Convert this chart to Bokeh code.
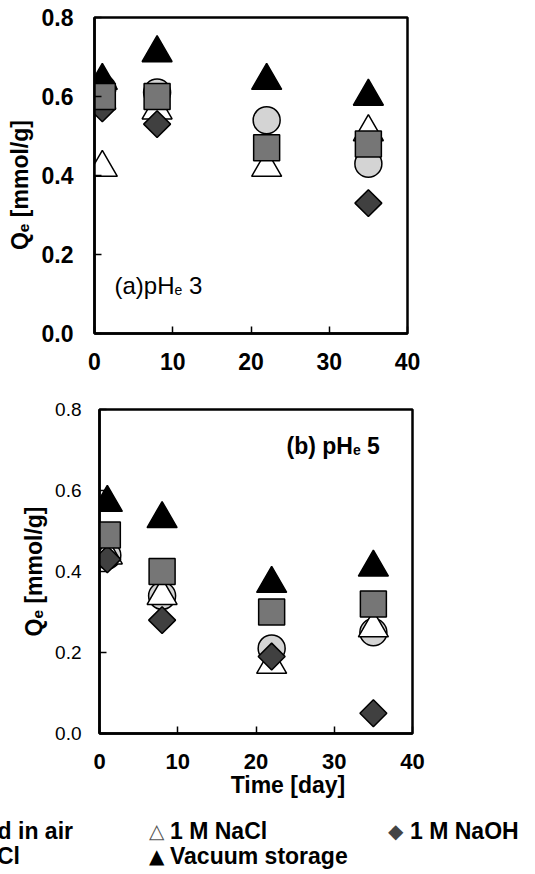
import math
from bokeh.plotting import figure
from bokeh.models import Range1d, Label, FixedTicker, PrintfTickFormatter, Div
from bokeh.layouts import column
from bokeh.embed import file_html
from bokeh.resources import INLINE

FONT = "Liberation Sans"
NBSP = "\u00a0"

# ---------------- data ----------------
days = [1, 8, 22, 35]
x_ticks = [0, 10, 20, 30, 40]
y_ticks = [0.0, 0.2, 0.4, 0.6, 0.8]
series = ["Stored in air", "1 M NaCl", "1 M NaOH", "Vacuum storage", "1 M HCl"]
NaN = float("nan")

# (a) pHe 3
ph3_air = [0.62, 0.61, 0.54, 0.43]
ph3_nacl = [0.42, 0.565, 0.42, 0.51]
ph3_naoh = [0.57, 0.53, NaN, 0.33]
ph3_vacuum = [0.64, 0.71, 0.64, 0.60]
ph3_hcl = [0.60, 0.60, 0.47, 0.48]

# (b) pHe 5
ph5_air = [0.44, 0.34, 0.21, 0.25]
ph5_nacl = [0.44, 0.34, 0.17, 0.26]
ph5_naoh = [0.43, 0.28, 0.19, 0.05]
ph5_vacuum = [0.57, 0.53, 0.37, 0.41]
ph5_hcl = [0.49, 0.40, 0.30, 0.32]

y_title = "Q\u2091 [mmol/g]"
x_title = "Time [day]"

# ---------------- styles ----------------
STYLE = {
    "Stored in air": dict(marker="circle", size=27, fill_color="#d4d4d4", angle=0),
    "1 M NaCl": dict(marker="triangle", size=30, fill_color="white", angle=0),
    "1 M NaOH": dict(marker="square", size=19, fill_color="#404040", angle=math.pi / 4),
    "Vacuum storage": dict(marker="triangle", size=30, fill_color="black", angle=0),
    "1 M HCl": dict(marker="square", size=26, fill_color="#767676", angle=0),
}


def make_panel(height, left, right, top, bottom, tick_bold_y, y_font, x_font,
               y_standoff, x_standoff):
    p = figure(width=535, height=height, x_range=Range1d(0, 40), y_range=Range1d(0, 0.8),
               output_backend="svg", toolbar_location=None, title=None,
               min_border_left=left, min_border_right=right,
               min_border_top=top, min_border_bottom=bottom)
    p.grid.visible = False
    p.outline_line_color = "black"
    p.outline_line_width = 2.5
    p.outline_line_alpha = 1.0
    p.xaxis.ticker = FixedTicker(ticks=x_ticks)
    p.yaxis.ticker = FixedTicker(ticks=y_ticks)
    p.yaxis.formatter = PrintfTickFormatter(format="%.1f")
    p.axis.major_tick_in = 7
    p.axis.major_tick_out = 0
    p.axis.minor_tick_line_color = None
    p.axis.axis_line_width = 2.5
    p.axis.major_tick_line_width = 1.5
    p.axis.major_label_text_font = FONT
    p.axis.major_label_text_color = "black"
    p.yaxis.major_label_text_font_size = y_font
    p.yaxis.major_label_text_font_style = "bold" if tick_bold_y else "normal"
    p.xaxis.major_label_text_font_size = x_font
    p.xaxis.major_label_text_font_style = "bold"
    p.yaxis.major_label_standoff = y_standoff
    p.xaxis.major_label_standoff = x_standoff
    p.axis.axis_label_text_font = FONT
    p.axis.axis_label_text_font_size = "23px"
    p.axis.axis_label_text_font_style = "bold"
    p.axis.axis_label_text_color = "black"
    return p


def draw(p, data):
    for name in series:
        st = STYLE[name]
        p.scatter(x=days, y=data[name], marker=st["marker"], size=st["size"],
                  angle=st["angle"], fill_color=st["fill_color"],
                  line_color="black", line_width=1.5)


def conv_factory(L, R, T, B):
    def conv(px, py):
        return (px - L) / (R - L) * 40.0, (B - py) / (B - T) * 0.8
    return conv


def add_label(p, conv, px, py, text, size, style="bold"):
    x, y = conv(px, py)
    p.add_layout(Label(x=x, y=y, text=text, text_font=FONT,
                       text_font_size=f"{size}px", text_font_style=style,
                       text_align="left", text_baseline="alphabetic",
                       text_color="black"))


def add_ph(p, conv, px, py, head, tail, size, style, head_w):
    add_label(p, conv, px, py, head, size, style)
    px += head_w * size
    sub = round(size * 0.6)
    add_label(p, conv, px, py + 4, "e", sub, style)
    px += 0.556 * sub + 0.278 * size
    add_label(p, conv, px, py, tail, size, style)


# ---------------- panel (a) ----------------
p1 = make_panel(380, 94, 128, 17, 47, True, "23px", "23px", 21, 19)
draw(p1, dict(zip(series, [ph3_air, ph3_nacl, ph3_naoh, ph3_vacuum, ph3_hcl])))
p1.yaxis.axis_label = y_title + NBSP * 3
p1.yaxis.axis_label_standoff = 6
c1 = conv_factory(94, 407, 17, 333)
add_ph(p1, c1, 114, 285, "(a)pH", "3", 24, "normal", 2.5)

# ---------------- panel (b) ----------------
p2 = make_panel(425, 99, 123, 29, 72, False, "19px", "22px", 18, 20)
draw(p2, dict(zip(series, [ph5_air, ph5_nacl, ph5_naoh, ph5_vacuum, ph5_hcl])))
p2.yaxis.axis_label = y_title
p2.yaxis.axis_label_standoff = 5
p2.xaxis.axis_label = NBSP * 10 + x_title
p2.xaxis.axis_label_standoff = 0
c2 = conv_factory(99, 412, 29, 353)
add_ph(p2, c2, 286, 65, "(b) pH", "5", 23, "bold", 2.888)

# ---------------- legend strip ----------------
def span(txt, left=None, right=None, top=0, size=23, color="black", family=FONT):
    pos = f"left:{left}px;" if left is not None else f"right:{right}px;"
    return (f'<span style="position:absolute;{pos}top:{top}px;font-size:{size}px;'
            f'line-height:{size}px;color:{color};font-family:\'{family}\';'
            f'font-weight:bold;white-space:nowrap;">{txt}</span>')


r1, r2 = 15, 40
legend_html = (
    '<div style="position:relative;width:535px;height:69px;overflow:hidden;margin:0;padding:0;">'
    + span("\u25cf", left=-98, top=r1 + 1, size=21, color="#c8c8c8", family="DejaVu Sans")
    + span(series[0], right=535 - 73, top=r1)
    + span("\u25a0", left=-98, top=r2 + 1, size=21, color="#767676", family="DejaVu Sans")
    + span(series[4], right=535 - 20, top=r2)
    + span("\u25b3", left=149, top=r1 + 1, size=20, color="#555555", family="DejaVu Sans")
    + span(series[1], left=170, top=r1)
    + span("\u25b2", left=149, top=r2 + 1, size=20, color="black", family="DejaVu Sans")
    + span(series[3], left=170, top=r2)
    + span("\u25c6", left=388, top=r1 + 1, size=20, color="#444444", family="DejaVu Sans")
    + span(series[2], left=410, top=r1)
    + '</div>'
)
legend = Div(text=legend_html, width=535, height=69, margin=0)

layout = column(column(p1, margin=0), column(p2, margin=0), legend, spacing=0)
open("out.html", "w").write(file_html(layout, INLINE))
